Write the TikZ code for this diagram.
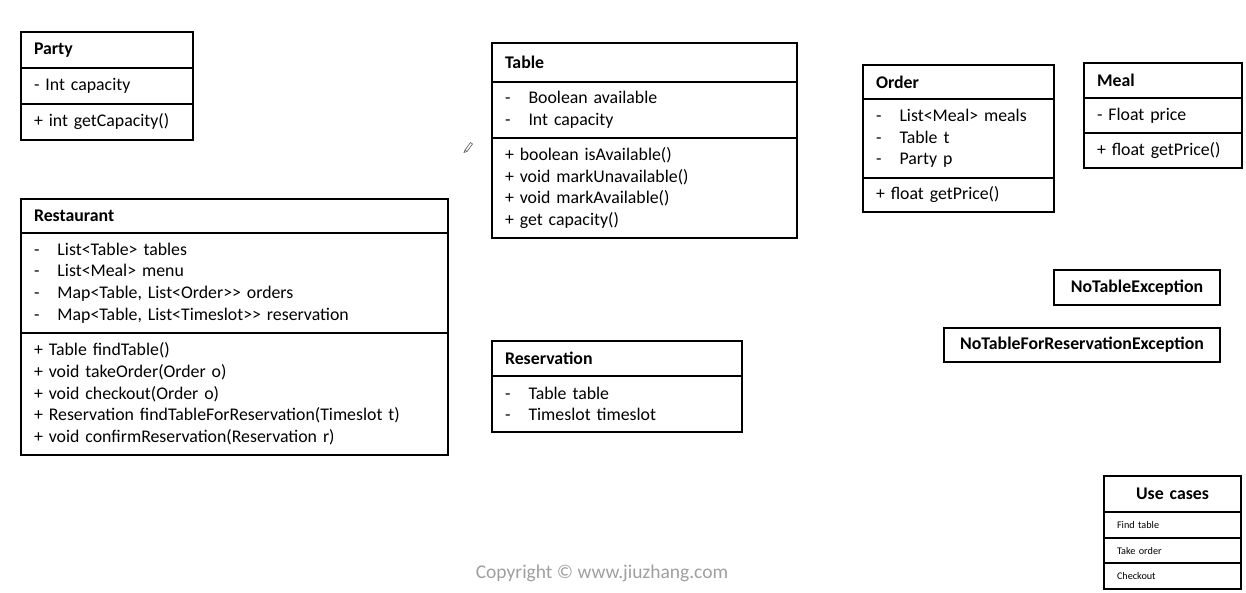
\documentclass[tikz,border=0pt]{standalone}
\usepackage{fontspec}
\setmainfont{Carlito}
\usetikzlibrary{positioning}

% field line: dash, then a tab
\newcommand{\fld}[1]{\makebox[23.5pt][l]{-}#1}

\begin{document}
\begin{tikzpicture}[x=1pt, y=-1pt,
    every node/.style={font=\fontsize{17.8}{21.7}\selectfont},
    part/.style={draw, line width=1.3pt, anchor=north west, align=left,
        inner xsep=13pt, inner ysep=0pt, outer sep=0pt},
    title/.style={part, font=\fontsize{17.8}{21.7}\selectfont\bfseries},
    exc/.style={draw, line width=1.3pt, anchor=north west, inner sep=0pt,
        outer sep=0pt, font=\fontsize{17.8}{21.7}\selectfont\bfseries},
    usecase/.style={part, font=\fontsize{10.2}{12}\selectfont}]

    \useasboundingbox (0,0) rectangle (1246,593);

    % --- Party ---
    \node[title, text width=146pt, minimum height=36pt] (party) at (21,32) {Party};
    \node[part, text width=146pt, minimum height=36pt, below=0pt of party] (party-attr) {- Int capacity};
    \node[part, text width=146pt, minimum height=36pt, below=0pt of party-attr] (party-ops) {+ int getCapacity()};

    % --- Restaurant ---
    \node[title, text width=401pt, minimum height=34pt] (rest) at (21,199) {Restaurant};
    \node[part, text width=401pt, minimum height=100pt, below=0pt of rest] (rest-attr)
        {\fld{List<Table> tables}\\
         \fld{List<Meal> menu}\\
         \fld{Map<Table, List<Order>\kern0pt> orders}\\
         \fld{Map<Table, List<Timeslot>\kern0pt> reservation}};
    \node[part, text width=401pt, minimum height=122pt, below=0pt of rest-attr] (rest-ops)
        {+ Table findTable()\\
         + void takeOrder(Order o)\\
         + void checkout(Order o)\\
         + Reservation findTableForReservation(Timeslot t)\\
         + void confirmReservation(Reservation r)};

    % --- Table ---
    \node[title, text width=279pt, minimum height=39pt] (table) at (492,43) {Table};
    \node[part, text width=279pt, minimum height=56pt, below=0pt of table] (table-attr)
        {\fld{Boolean available}\\ \fld{Int capacity}};
    \node[part, text width=279pt, minimum height=100pt, below=0pt of table-attr] (table-ops)
        {+ boolean isAvailable()\\
         + void markUnavailable()\\
         + void markAvailable()\\
         + get capacity()};

    % pencil cursor
    \draw[line width=0.6pt, gray!70!black] (465,150) -- (470.5,142.5) -- (472.5,144) -- (467,151.5) -- cycle;
    \draw[line width=0.6pt, gray!70!black] (465,150) -- (464,152.5) -- (467,151.5);

    % --- Order ---
    \node[title, text width=165pt, minimum height=34pt] (order) at (863,65) {Order};
    \node[part, text width=165pt, minimum height=79pt, below=0pt of order] (order-attr)
        {\fld{List<Meal> meals}\\ \fld{Table t}\\ \fld{Party p}};
    \node[part, text width=165pt, minimum height=34pt, below=0pt of order-attr] (order-ops) {+ float getPrice()};

    % --- Meal ---
    \node[title, text width=132pt, minimum height=35pt] (meal) at (1084,63) {Meal};
    \node[part, text width=132pt, minimum height=35pt, below=0pt of meal] (meal-attr) {- Float price};
    \node[part, text width=132pt, minimum height=35pt, below=0pt of meal-attr] (meal-ops) {+ float getPrice()};

    % --- Reservation ---
    \node[title, text width=224pt, minimum height=35pt] (resv) at (492,341) {Reservation};
    \node[part, text width=224pt, minimum height=56pt, below=0pt of resv] (resv-attr)
        {\fld{Table table}\\ \fld{Timeslot timeslot}};

    % --- Exceptions ---
    \node[exc, minimum width=166pt, minimum height=35pt] (noTable) at (1054,270) {NoTableException};
    \node[exc, minimum width=276pt, minimum height=34pt] (noTableResv) at (944,328) {NoTableForReservationException};

    % --- Use cases ---
    \node[title, align=center, text width=111pt, minimum height=36pt] (uc) at (1104,476) {Use cases};
    \node[usecase, text width=111pt, minimum height=26pt, below=0pt of uc] (uc-find) {Find table};
    \node[usecase, text width=111pt, minimum height=25pt, below=0pt of uc-find] (uc-order) {Take order};
    \node[usecase, text width=111pt, minimum height=26pt, below=0pt of uc-order] (uc-check) {Checkout};

    % --- Copyright ---
    \node[text=gray!75, font=\fontsize{19.5}{23}\selectfont] (copyright) at (602,573) {Copyright © www.jiuzhang.com};

\end{tikzpicture}
\end{document}
